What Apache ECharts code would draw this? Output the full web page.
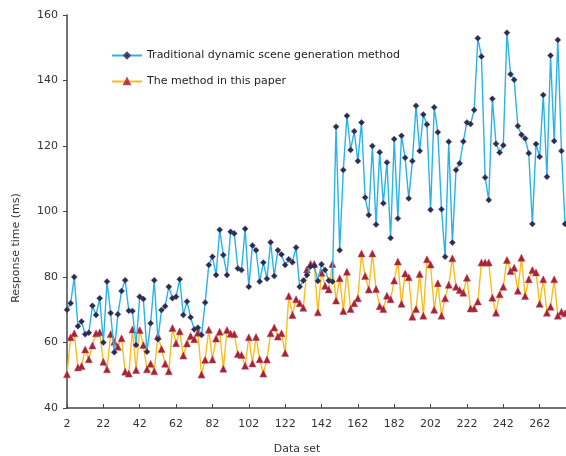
<!DOCTYPE html>
<html>
<head>
<meta charset="utf-8">
<script src="https://cdn.jsdelivr.net/npm/echarts@6/dist/echarts.min.js"></script>
<style>
  html, body { margin: 0; padding: 0; background: #fff; }
  #chart { width: 566px; height: 456px; }
</style>
</head>
<body>
<div id="chart"></div>
<script>
// x categories: data set 2, 4, ... 282 (axis runs past the right edge of the picture)
let dataSet = Array.from({length: 141}, (v, i) => 2 + i * 2)

// 传统方法
let traditional = [
  70, 72, 80, 65, 66.4, 62.5, 63, 71.2, 68.4, 73.5,
  60, 78.6, 69, 57, 68.6, 75.7, 79, 69.7, 69.6, 59.2,
  74, 73.3, 57.2, 65.9, 79, 61, 69.9, 71.1, 77, 73.5,
  74, 79.3, 68.4, 72.5, 67.7, 64, 64.5, 62.3, 72.2, 83.7,
  86.2, 80.6, 94.4, 86.7, 80.6, 93.8, 93.3, 82.6, 82.1, 94.7,
  77, 89.6, 88.2, 78.6, 84.4, 79.5, 90.6, 80.3, 88.2, 86.9,
  83.7, 85.4, 84.5, 89, 77, 78.9, 80.6, 83.2, 83.4, 78.8,
  83.9, 82.1, 78.9, 78.6, 125.9, 88.2, 112.7, 129.2, 118.8, 124.5,
  115.4, 127.2, 104.3, 98.9, 120, 96, 118.1, 102.5, 115, 91.9,
  122.1, 97.9, 123.1, 116.4, 104, 115.4, 132.3, 118.5, 129.6, 126.6,
  100.5, 131.8, 124.2, 100.7, 86.2, 121.3, 90.5, 112.7, 114.7, 121.4,
  127.2, 126.7, 131, 152.9, 147.3, 110.4, 103.5, 134.4, 120.7, 118,
  120.2, 154.6, 141.9, 140.2, 126.1, 123.4, 122.3, 117.8, 96.2, 120.6,
  116.7, 135.6, 110.6, 147.6, 121.5, 152.4, 118.5, 96.2
]

// 本文方法
let proposed = [
  50.3, 61.6, 62.8, 52.4, 52.8, 57.9, 54.9, 59.1, 62.8, 63.1,
  54.1, 51.8, 62.6, 60.2, 58.7, 61.3, 51.1, 50.5, 64, 51.6,
  63.8, 59.2, 51.8, 53.5, 51.2, 62, 58, 53.5, 51.2, 64.4,
  59.8, 63.4, 56, 59.7, 62, 61, 63, 50.2, 54.7, 63.9,
  54.8, 61.2, 63.3, 52, 63.8, 62.7, 62.6, 56.5, 56.2, 52.9,
  61.6, 53.6, 61.7, 54.9, 50.5, 54.8, 62.8, 64.6, 61.8, 62.8,
  56.8, 74.2, 68.4, 73.2, 72, 70.6, 82.3, 84, 84, 69.2,
  81.3, 77.3, 76.2, 84, 72.8, 79.6, 69.6, 81.6, 70.2, 72,
  73.5, 87.2, 80.3, 76.2, 87.2, 76.3, 71.1, 70.2, 74.3, 73.2,
  78.9, 84.7, 71.8, 81.1, 79.9, 67.9, 70.2, 80.9, 68.2, 85.4,
  83.8, 70, 78.1, 68.2, 73.5, 77.6, 85.7, 77, 76, 75.2,
  79.8, 70.4, 70.4, 72.5, 84.4, 84.4, 84.4, 73.7, 69.1, 74.7,
  77, 85.2, 81.8, 82.8, 75.8, 85.9, 74.2, 79.3, 82.1, 81.4,
  71.8, 79.3, 69.1, 70.9, 79.3, 68.2, 69.4, 68.9
]

let yTicks = [40, 60, 80, 100, 120, 140, 160]
let seriesNames = ['Traditional dynamic scene generation method', 'The method in this paper']

let font = 'DejaVu Sans'
let myChart = echarts.init(document.getElementById('chart'))

let option = {
  animation: false,
  backgroundColor: '#fff',
  textStyle: {fontFamily: font},
  // plot box is wider than the window: the reference is cropped on the right
  grid: {left: 67, top: 15, width: 509, height: 393, outerBoundsMode: 'none'},
  legend: {
    orient: 'vertical',
    left: 106,
    top: 45,
    itemGap: 15,
    itemWidth: 30,
    itemHeight: 7,
    textStyle: {fontFamily: font, fontSize: 11, color: '#222'},
    data: seriesNames
  },
  xAxis: {
    type: 'category',
    boundaryGap: false,
    data: dataSet,
    axisLine: {lineStyle: {color: '#444', width: 1.5}},
    axisTick: {inside: true, length: 4, interval: 9, lineStyle: {color: '#444'}},
    axisLabel: {
      interval: (i) => i % 10 === 0 && i < 140,
      margin: 11,
      fontFamily: font,
      fontSize: 11,
      color: '#333'
    },
    splitLine: {show: false}
  },
  yAxis: {
    type: 'value',
    min: yTicks[0],
    max: yTicks[yTicks.length - 1],
    interval: 20,
    axisLine: {show: true, lineStyle: {color: '#444', width: 1.5}},
    axisTick: {show: true, length: 4, lineStyle: {color: '#444'}},
    axisLabel: {margin: 9, fontFamily: font, fontSize: 11, color: '#333'},
    splitLine: {show: false}
  },
  graphic: [
    {
      type: 'text',
      x: 16,
      y: 248,
      rotation: Math.PI / 2,
      style: {text: 'Response time (ms)', font: '11px "DejaVu Sans"', fill: '#333', align: 'center', verticalAlign: 'middle'}
    },
    {
      type: 'text',
      x: 297,
      y: 449,
      style: {text: 'Data set', font: '11px "DejaVu Sans"', fill: '#333', align: 'center', verticalAlign: 'middle'}
    }
  ],
  series: [
    {
      name: seriesNames[0],
      type: 'line',
      data: traditional,
      showAllSymbol: true,
      symbol: 'diamond',
      symbolSize: 6,
      lineStyle: {color: '#29b3e8', width: 1.4},
      itemStyle: {color: '#2e2b50', borderColor: '#4a4670', borderWidth: 0.5},
      z: 3
    },
    {
      name: seriesNames[1],
      type: 'line',
      data: proposed,
      showAllSymbol: true,
      symbol: 'triangle',
      symbolSize: 7,
      lineStyle: {color: '#fbbd1a', width: 1.4},
      itemStyle: {color: '#a3243a', borderColor: '#c0404f', borderWidth: 0.5},
      z: 2
    }
  ]
}
myChart.setOption(option)
</script>
</body>
</html>
